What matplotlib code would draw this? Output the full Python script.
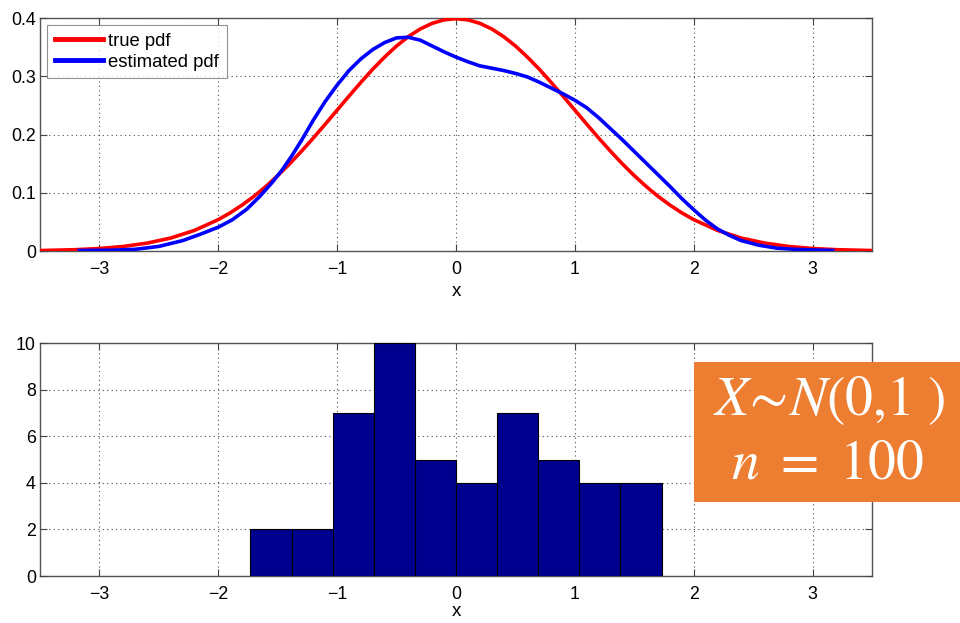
import matplotlib.pyplot as plt
from matplotlib.patches import Rectangle

plt.rcParams['font.family'] = ['Liberation Sans', 'DejaVu Sans']
plt.rcParams['mathtext.fontset'] = 'stix'

# true pdf (standard normal), values read at these x
true_x = [-3.5, -3.2, -3.0, -2.8, -2.6, -2.4, -2.2, -2.0, -1.9, -1.8, -1.7, -1.6,
          -1.5, -1.4, -1.3, -1.2, -1.1, -1.0, -0.9, -0.8, -0.7, -0.6, -0.5, -0.4,
          -0.3, -0.2, -0.1, 0.0, 0.1, 0.2, 0.3, 0.4, 0.5, 0.6, 0.7, 0.8, 0.9, 1.0,
          1.1, 1.2, 1.3, 1.4, 1.5, 1.6, 1.7, 1.8, 1.9, 2.0, 2.2, 2.4, 2.6, 2.8,
          3.0, 3.2, 3.5]
true_y = [0.0009, 0.0024, 0.0044, 0.0079, 0.0136, 0.0224, 0.0355, 0.0540, 0.0656,
          0.0790, 0.0940, 0.1109, 0.1295, 0.1497, 0.1714, 0.1942, 0.2179, 0.2420,
          0.2661, 0.2897, 0.3123, 0.3332, 0.3521, 0.3683, 0.3814, 0.3910, 0.3970,
          0.3989, 0.3970, 0.3910, 0.3814, 0.3683, 0.3521, 0.3332, 0.3123, 0.2897,
          0.2661, 0.2420, 0.2179, 0.1942, 0.1714, 0.1497, 0.1295, 0.1109, 0.0940,
          0.0790, 0.0656, 0.0540, 0.0355, 0.0224, 0.0136, 0.0079, 0.0044, 0.0024,
          0.0009]

# estimated pdf
est_x = [-3.17, -2.9, -2.7, -2.5, -2.3, -2.15, -2.0, -1.88, -1.76, -1.65, -1.55,
         -1.46, -1.38, -1.3, -1.2, -1.1, -1.0, -0.9, -0.8, -0.7, -0.6, -0.5, -0.4,
         -0.3, -0.2, -0.1, 0.0, 0.1, 0.2, 0.3, 0.4, 0.5, 0.6, 0.7, 0.8, 0.9, 1.0,
         1.1, 1.2, 1.3, 1.4, 1.5, 1.6, 1.7, 1.8, 1.9, 2.0, 2.1, 2.2, 2.3, 2.4,
         2.55, 2.7, 2.85, 3.0, 3.17]
est_y = [0.001, 0.0015, 0.003, 0.008, 0.018, 0.029, 0.041, 0.054, 0.072, 0.094,
         0.117, 0.140, 0.164, 0.190, 0.225, 0.257, 0.285, 0.310, 0.330, 0.346,
         0.358, 0.366, 0.367, 0.362, 0.352, 0.342, 0.333, 0.325, 0.318, 0.314,
         0.310, 0.305, 0.299, 0.290, 0.280, 0.270, 0.259, 0.246, 0.229, 0.210,
         0.191, 0.171, 0.151, 0.131, 0.111, 0.090, 0.071, 0.053, 0.038, 0.027,
         0.018, 0.010, 0.005, 0.003, 0.002, 0.001]

# histogram
bin_edges = [-1.73, -1.384, -1.038, -0.692, -0.346, 0.0, 0.346, 0.692, 1.038, 1.384, 1.73]
counts = [2, 2, 7, 10, 5, 4, 7, 5, 4, 4]

x_ticks = [-3, -2, -1, 0, 1, 2, 3]
top_yticks = [0, 0.1, 0.2, 0.3, 0.4]
top_ylabels = ["0", "0.1", "0.2", "0.3", "0.4"]
bottom_yticks = [0, 2, 4, 6, 8, 10]


def style_axes(ax, xpad):
    ax.grid(True, color="0.3", linestyle=(0, (1, 3)), linewidth=0.8)
    ax.set_axisbelow(False)
    for s in ax.spines.values():
        s.set_color("#555555")
        s.set_linewidth(1.0)
    ax.tick_params(direction="in", length=5, width=0.8, color="#444444",
                   top=True, right=True, labelsize=12.8)
    ax.tick_params(axis="x", pad=7)
    ax.tick_params(axis="y", pad=3)
    ax.set_xlim(-3.5, 3.5)
    ax.set_xticks(x_ticks)
    ax.set_xlabel("x", fontsize=13.5, labelpad=xpad)


fig = plt.figure(figsize=(9.6, 6.23), dpi=100)

ax1 = fig.add_axes([0.0417, 0.597, 0.8666, 0.374])
ax1.plot(true_x, true_y, color="red", linewidth=2.6, label="true pdf",
         zorder=3, solid_joinstyle="round")
ax1.plot(est_x, est_y, color="blue", linewidth=2.6, label="estimated pdf",
         zorder=3, solid_joinstyle="round")
ax1.set_ylim(0, 0.4)
ax1.set_yticks(top_yticks)
ax1.set_yticklabels(top_ylabels)
style_axes(ax1, 4)
leg = ax1.legend(loc="upper left", fontsize=13.3, frameon=True, fancybox=False,
                 handlelength=2.6, borderpad=0.4, labelspacing=0.22,
                 handletextpad=0.3, borderaxespad=0.4)
leg.get_frame().set_edgecolor("#777777")
leg.get_frame().set_linewidth(0.8)
for line in leg.get_lines():
    line.set_linewidth(3.5)

ax2 = fig.add_axes([0.0417, 0.0754, 0.8666, 0.374])
widths = [bin_edges[i + 1] - bin_edges[i] for i in range(len(counts))]
ax2.bar(bin_edges[:-1], counts, width=widths, align="edge",
        color="#00008F", edgecolor="black", linewidth=0.8, zorder=3)
ax2.set_ylim(0, 10)
ax2.set_yticks(bottom_yticks)
style_axes(ax2, 0)

# orange annotation box
box = Rectangle((0.7229, 0.194), 0.2771, 0.225, transform=fig.transFigure,
                facecolor="#ED7D31", edgecolor="none", zorder=10)
fig.add_artist(box)
fig.text(0.864, 0.357, r"$X\!\sim\! N(0{,}1\ )$", transform=fig.transFigure,
         ha="center", va="center", color="white", fontsize=40, zorder=11)
fig.text(0.862, 0.254, r"$n\ =\ 100$", transform=fig.transFigure,
         ha="center", va="center", color="white", fontsize=40, zorder=11)

fig.savefig("out.png", dpi=100)
plt.close(fig)
